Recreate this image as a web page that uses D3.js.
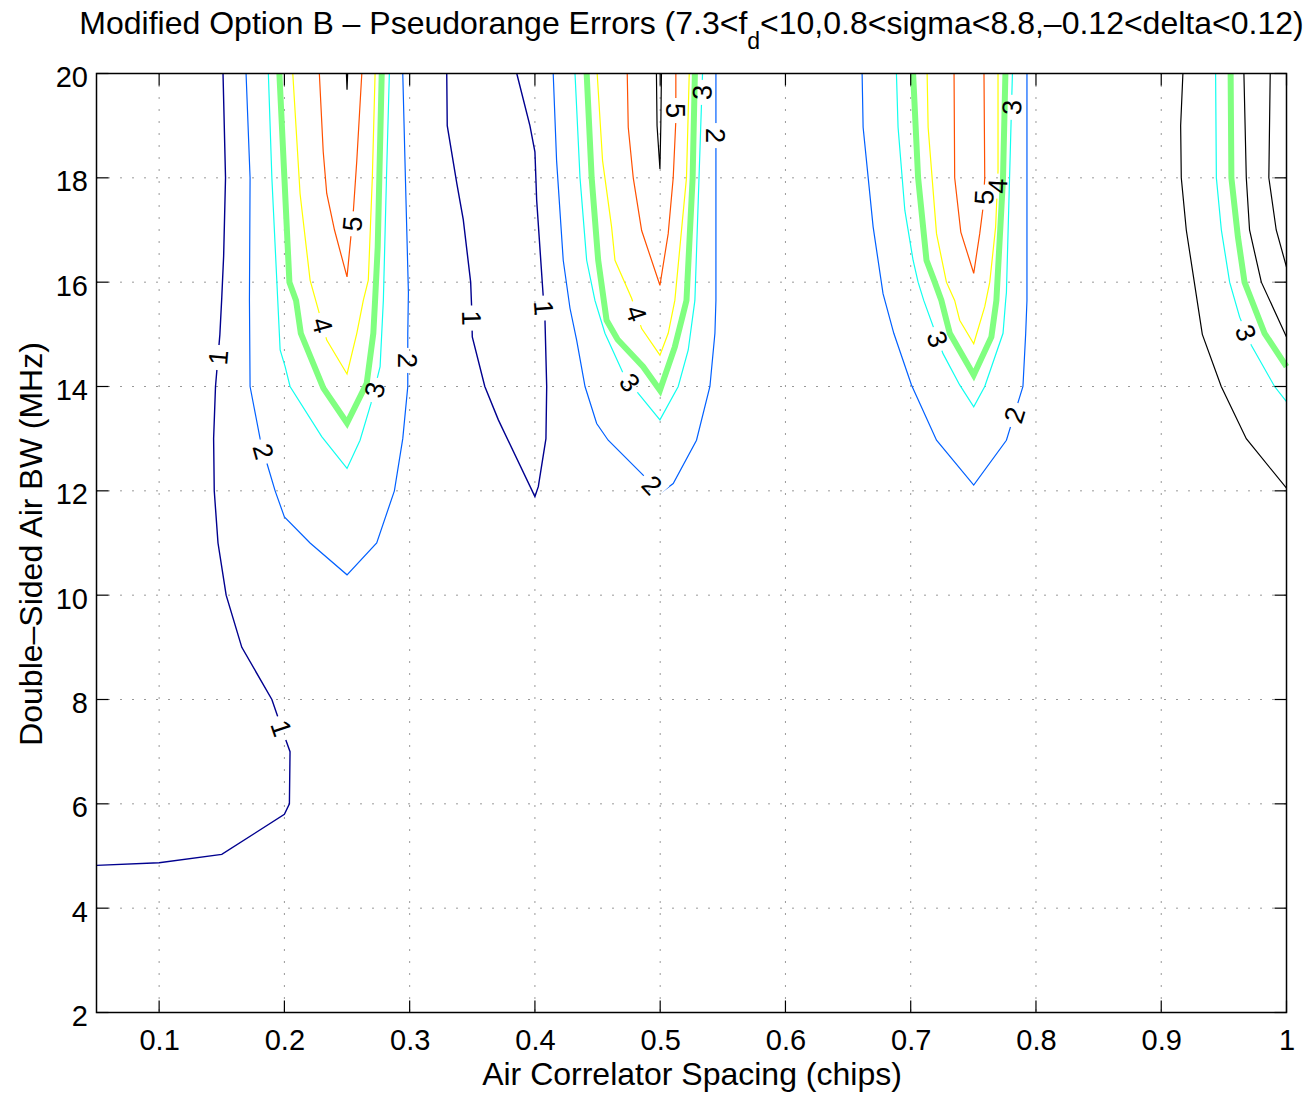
<!DOCTYPE html>
<html>
<head>
<meta charset="utf-8">
<script src="https://d3js.org/d3.v7.min.js"></script>
<style>
    body { margin: 0; background: #fff; }
    text { font-family: "Liberation Sans", Arial, Helvetica, sans-serif; }
</style>
</head>
<body>
<div id="contour-chart"></div>
<script>
// Axis ticks
const xTicks = [0.1, 0.2, 0.3, 0.4, 0.5, 0.6, 0.7, 0.8, 0.9, 1];
const yTicks = [2, 4, 6, 8, 10, 12, 14, 16, 18, 20];

// Contour lines: [correlator spacing (chips), air BW (MHz)]
const c1Left = [[0.151,20],[0.153,18],[0.1515,16.5],[0.150,15.7],[0.1485,15],[0.145,14],[0.1435,13],[0.144,12],[0.147,11],[0.1535,10],[0.166,9],[0.19,8],[0.2,7.3],[0.2045,7],[0.204,6],[0.2,5.8],[0.15,5.03],[0.1,4.87],[0.05,4.82]];
const c1Mid = [[0.3296,20],[0.33,19],[0.3376,17.9],[0.3428,17.2],[0.3487,16],[0.3495,15.5],[0.35,14.95],[0.36,14],[0.3708,13.36],[0.40,11.89],[0.4027,12.08],[0.4088,13],[0.4094,14],[0.408,15.3],[0.4067,15.7],[0.4014,17.57],[0.40,18.5],[0.396,19],[0.3855,20]];

const c2Left = [[0.1694,20],[0.1726,18],[0.1721,15.65],[0.1726,14],[0.1806,13],[0.1864,12.5],[0.1926,12],[0.2,11.5],[0.2205,11],[0.25,10.39],[0.2737,11],[0.2878,12],[0.2945,13],[0.2985,14],[0.2985,15],[0.299,15.8],[0.2966,18],[0.2945,20]];
const c2Mid = [[0.4146,20],[0.4173,18.33],[0.4226,16.42],[0.428,15.5],[0.4333,14.89],[0.44,14],[0.4493,13.29],[0.4585,12.97],[0.4864,12.3],[0.4998,11.95],[0.5104,12.14],[0.529,12.97],[0.5397,14],[0.5437,15.02],[0.5445,15.65],[0.5445,20]];
const c2Right = [[0.6612,20],[0.662,18.97],[0.67,17.06],[0.6779,15.78],[0.6865,15.02],[0.7006,14.03],[0.7206,12.97],[0.7503,12.11],[0.7764,12.97],[0.7896,14],[0.7918,15.02],[0.7928,15.65],[0.7928,20]];

const c3Left = [[0.1872,20],[0.19,18],[0.1947,15.65],[0.1966,14.7],[0.2006,14.38],[0.2045,14],[0.2298,13.04],[0.25,12.43],[0.2604,12.97],[0.2692,13.68],[0.2764,14.38],[0.279,15.65],[0.2815,18],[0.2838,20]];
const c3Mid = [[0.432,20],[0.436,18],[0.4413,16.42],[0.4479,15.65],[0.4559,15.02],[0.4705,14.25],[0.4825,13.87],[0.4998,13.36],[0.5144,14],[0.5224,14.7],[0.5277,15.65],[0.531,18],[0.5338,20]];
const c3Right = [[0.6886,20],[0.6899,18.97],[0.6953,17.38],[0.7019,16.42],[0.7059,16],[0.7104,15.65],[0.7258,14.63],[0.7391,14.03],[0.7503,13.61],[0.7591,14],[0.7737,15.02],[0.7758,15.65],[0.7764,15.8],[0.7812,20]];
const c3Far = [[0.9434,20],[0.944,18],[0.948,17],[0.9546,16],[0.9626,15.33],[0.9719,14.79],[0.9905,14],[1.0,13.71]];

const cHiLeft = [[0.196,20],[0.2,18],[0.204,16],[0.2093,15.65],[0.2131,15.02],[0.2311,13.97],[0.25,13.3],[0.2657,14.06],[0.271,15.02],[0.2724,15.65],[0.2745,16.67],[0.2777,20]];
const cHiMid = [[0.4413,20],[0.4453,18],[0.4505,16.42],[0.4572,15.27],[0.466,14.9],[0.4864,14.38],[0.4998,13.93],[0.5117,14.76],[0.5184,15.4],[0.521,15.65],[0.5259,18],[0.5277,20]];
const cHiRight = [[0.7019,20],[0.7059,18],[0.7126,16.42],[0.7192,16],[0.7245,15.65],[0.7285,15.27],[0.7312,15.02],[0.7503,14.22],[0.7644,14.95],[0.7684,15.65],[0.7737,18],[0.7756,20]];
const cHiFar = [[0.9554,20],[0.956,18],[0.9612,16.87],[0.9665,16],[0.9825,15.02],[1.0,14.38]];

const c4Left = [[0.2067,20],[0.2125,17.7],[0.2205,16.04],[0.2338,14.89],[0.25,14.24],[0.2578,15.02],[0.263,15.65],[0.267,16.04],[0.2702,18],[0.2724,20]];
const c4Mid = [[0.4497,20],[0.454,18.33],[0.4612,17.06],[0.4639,16.42],[0.4772,15.69],[0.4852,15.11],[0.4998,14.6],[0.5064,15.02],[0.5117,15.65],[0.521,18],[0.5232,20]];
const c4Right = [[0.7131,20],[0.7139,18.97],[0.7206,16.93],[0.7285,16],[0.7351,15.65],[0.7391,15.27],[0.7503,14.82],[0.7591,15.53],[0.7631,16],[0.7678,17.06],[0.7697,18.14],[0.7697,20]];

const c5Left = [[0.2279,20],[0.231,18.5],[0.2338,17.7],[0.24,17],[0.25,16.1],[0.2551,17.38],[0.2578,18.33],[0.2618,20]];
const c5Mid = [[0.4737,20],[0.4745,18.97],[0.4785,18],[0.4852,16.99],[0.4998,15.94],[0.5064,16.93],[0.5104,18],[0.5125,19.1],[0.5125,20]];
const c5Right = [[0.7346,20],[0.7351,18],[0.74,16.96],[0.7503,16.17],[0.7551,16.93],[0.7578,17.44],[0.7591,18],[0.7585,20]];

// lines drawn in black
const kLeftTip = [[0.2495,20],[0.25,19.69],[0.2505,20]];
const kMid = [[0.497,20],[0.4975,19],[0.4998,18.17],[0.5005,19],[0.501,20]];
const kFarA = [[0.9173,20],[0.9155,19],[0.916,18],[0.92,17],[0.9328,15],[0.9479,14],[0.9679,13],[1.0,12.05]];
const kFarB = [[0.966,20],[0.9679,18],[0.9705,17],[0.9799,16],[1.0,14.95]];
const kFarC = [[0.987,20],[0.9859,18],[0.9918,17],[1.0,16.29]];

// line name, level key, points
const contourLines = [
    ["c1Left", "1", c1Left], ["c1Mid", "1", c1Mid],
    ["c2Left", "2", c2Left], ["c2Mid", "2", c2Mid], ["c2Right", "2", c2Right],
    ["c3Left", "3", c3Left], ["c3Mid", "3", c3Mid], ["c3Right", "3", c3Right], ["c3Far", "3", c3Far],
    ["cHiLeft", "hi", cHiLeft], ["cHiMid", "hi", cHiMid], ["cHiRight", "hi", cHiRight], ["cHiFar", "hi", cHiFar],
    ["c4Left", "4", c4Left], ["c4Mid", "4", c4Mid], ["c4Right", "4", c4Right],
    ["c5Left", "5", c5Left], ["c5Mid", "5", c5Mid], ["c5Right", "5", c5Right],
    ["kLeftTip", "k", kLeftTip], ["kMid", "k", kMid],
    ["kFarA", "k", kFarA], ["kFarB", "k", kFarB], ["kFarC", "k", kFarC]
];

// inline contour labels: line name, text, approximate spot
const contourLabels = [
    ["c1Left", "1", 0.1455, 14.56], ["c1Left", "1", 0.1979, 7.45],
    ["c2Left", "2", 0.1828, 12.75], ["c2Left", "2", 0.3003, 14.5],
    ["c3Left", "3", 0.2724, 13.93], ["c4Left", "4", 0.2311, 15.18], ["c5Left", "5", 0.2538, 17.12],
    ["c1Mid", "1", 0.3482, 15.31], ["c1Mid", "1", 0.4056, 15.5],
    ["c2Mid", "2", 0.4917, 12.07], ["c2Mid", "2", 0.5428, 18.81],
    ["c3Mid", "3", 0.4758, 14.08], ["c3Mid", "3", 0.5291, 19.64],
    ["c4Mid", "4", 0.4806, 15.4], ["c5Mid", "5", 0.5117, 19.29],
    ["c2Right", "2", 0.783, 13.45], ["c3Right", "3", 0.719, 14.89], ["c3Right", "3", 0.7813, 19.35],
    ["c4Right", "4", 0.7701, 17.84], ["c5Right", "5", 0.759, 17.63],
    ["c3Far", "3", 0.9666, 15.02]
];

// styles per level key
const levelColor = { "1": "#00008f", "2": "#0060ff", "3": "#10ffef", "hi": "#80ff80", "4": "#ffff00", "5": "#ff5000", "k": "#000000" };
const levelWidth = { "1": 1.4, "2": 1.2, "3": 1.2, "hi": 6, "4": 1.2, "5": 1.2, "k": 1.2 };

const margin = { top: 73.5, right: 23.5, bottom: 80.5, left: 96.5 };
const width = 1310 - margin.left - margin.right;
const height = 1093 - margin.top - margin.bottom;

function snapToLine(pts, p) {
    let best = null;
    for (let i = 0; i < pts.length - 1; i++) {
        const a = pts[i], b = pts[i + 1];
        const dx = b[0] - a[0], dy = b[1] - a[1];
        const len2 = dx * dx + dy * dy || 1;
        let t = ((p[0] - a[0]) * dx + (p[1] - a[1]) * dy) / len2;
        t = Math.max(0, Math.min(1, t));
        const q = [a[0] + t * dx, a[1] + t * dy];
        const d = (q[0] - p[0]) ** 2 + (q[1] - p[1]) ** 2;
        if (!best || d < best.d) best = { d, q, angle: Math.atan2(dy, dx) * 180 / Math.PI };
    }
    let ang = best.angle;
    if (ang > 90) ang -= 180;
    if (ang <= -90) ang += 180;
    return { x: best.q[0], y: best.q[1], angle: ang };
}

function createContourChart() {
    const root = d3.select("#contour-chart")
        .append("svg")
        .attr("width", 1310)
        .attr("height", 1093);

    const svg = root.append("g")
        .attr("transform", `translate(${margin.left},${margin.top})`);

    const x = d3.scaleLinear().domain([0.05, 1]).range([0, width]);
    const y = d3.scaleLinear().domain([2, 20]).range([height, 0]);

    // dotted grid
    svg.append("g").selectAll("line")
        .data(xTicks.filter(d => d < 1))
        .enter().append("line")
        .attr("x1", d => x(d)).attr("x2", d => x(d))
        .attr("y1", 0).attr("y2", height)
        .attr("stroke", "#333").attr("stroke-width", 1)
        .attr("stroke-dasharray", "1,11");
    svg.append("g").selectAll("line")
        .data(yTicks.filter(d => d > 2 && d < 20))
        .enter().append("line")
        .attr("x1", 0).attr("x2", width)
        .attr("y1", d => y(d)).attr("y2", d => y(d))
        .attr("stroke", "#333").attr("stroke-width", 1)
        .attr("stroke-dasharray", "1,11");

    const line = d3.line().x(d => x(d[0])).y(d => y(d[1]));
    const pxLines = {};
    contourLines.forEach(([name, , pts]) => {
        pxLines[name] = pts.map(d => [x(d[0]), y(d[1])]);
    });

    // labels first, so their size is known for the gaps
    const fontSize = 27;
    const labelLayer = svg.append("g").attr("class", "labels");
    const gaps = {};
    contourLabels.forEach(([name, txt, lx, ly]) => {
        const s = snapToLine(pxLines[name], [x(lx), y(ly)]);
        const t = labelLayer.append("text")
            .attr("transform", `translate(${s.x},${s.y}) rotate(${s.angle})`)
            .attr("text-anchor", "middle")
            .attr("dy", "0.36em")
            .attr("font-size", fontSize)
            .attr("fill", "#000")
            .text(txt);
        const w = t.node().getComputedTextLength();
        (gaps[name] = gaps[name] || []).push({ s, w });
    });

    const defs = root.append("defs");
    Object.keys(gaps).forEach(name => {
        const mask = defs.append("mask")
            .attr("id", "gap-" + name)
            .attr("maskUnits", "userSpaceOnUse")
            .attr("x", -margin.left).attr("y", -margin.top)
            .attr("width", 1310).attr("height", 1093);
        mask.append("rect")
            .attr("x", -margin.left).attr("y", -margin.top)
            .attr("width", 1310).attr("height", 1093)
            .attr("fill", "#fff");
        gaps[name].forEach(({ s, w }) => {
            mask.append("rect")
                .attr("x", -(w + 10) / 2).attr("y", -fontSize * 0.45)
                .attr("width", w + 10).attr("height", fontSize * 0.9)
                .attr("fill", "#000")
                .attr("transform", `translate(${s.x},${s.y}) rotate(${s.angle})`);
        });
    });

    const lineLayer = svg.insert("g", ".labels");
    contourLines.forEach(([name, level, pts]) => {
        lineLayer.append("path")
            .datum(pts)
            .attr("d", line)
            .attr("fill", "none")
            .attr("stroke", levelColor[level])
            .attr("stroke-width", levelWidth[level])
            .attr("stroke-linejoin", "miter")
            .attr("stroke-miterlimit", 4)
            .attr("mask", gaps[name] ? `url(#gap-${name})` : null);
    });

    // frame and inward ticks on all sides
    svg.append("rect")
        .attr("width", width).attr("height", height)
        .attr("fill", "none").attr("stroke", "#000").attr("stroke-width", 1.5);
    const tickLen = 12;
    const ticks = svg.append("g").attr("stroke", "#000").attr("stroke-width", 1.2);
    xTicks.forEach(d => {
        ticks.append("line").attr("x1", x(d)).attr("x2", x(d)).attr("y1", height).attr("y2", height - tickLen);
        ticks.append("line").attr("x1", x(d)).attr("x2", x(d)).attr("y1", 0).attr("y2", tickLen);
    });
    yTicks.forEach(d => {
        ticks.append("line").attr("x1", 0).attr("x2", tickLen).attr("y1", y(d)).attr("y2", y(d));
        ticks.append("line").attr("x1", width).attr("x2", width - tickLen).attr("y1", y(d)).attr("y2", y(d));
    });

    // tick labels
    const xAxis = svg.append("g")
        .attr("transform", `translate(0,${height})`)
        .call(d3.axisBottom(x).tickValues(xTicks).tickSize(0).tickPadding(17).tickFormat(d3.format("~g")));
    const yAxis = svg.append("g")
        .call(d3.axisLeft(y).tickValues(yTicks).tickSize(0).tickPadding(8.5).tickFormat(d3.format("~g")));
    [xAxis, yAxis].forEach(a => {
        a.select(".domain").remove();
        a.attr("font-family", null).attr("font-size", null);
        a.selectAll("text").attr("font-size", 29).attr("fill", "#000");
    });
    yAxis.selectAll("text").attr("dy", "0.45em");

    // axis titles
    root.append("text")
        .attr("x", 692).attr("y", 1085)
        .attr("text-anchor", "middle")
        .attr("font-size", 32)
        .text("Air Correlator Spacing (chips)");

    root.append("text")
        .attr("transform", "translate(42,544) rotate(-90)")
        .attr("text-anchor", "middle")
        .attr("font-size", 32)
        .text("Double\u2013Sided Air BW (MHz)");

    const title = root.append("text")
        .attr("x", 691.5).attr("y", 34)
        .attr("text-anchor", "middle")
        .attr("font-size", 32);
    title.append("tspan").text("Modified Option B \u2013 Pseudorange Errors (7.3<f");
    title.append("tspan").attr("dy", 15).attr("font-size", 23).text("d");
    title.append("tspan").attr("dy", -15).text("<10,0.8<sigma<8.8,\u20130.12<delta<0.12)");
}

createContourChart();
</script>
</body>
</html>
